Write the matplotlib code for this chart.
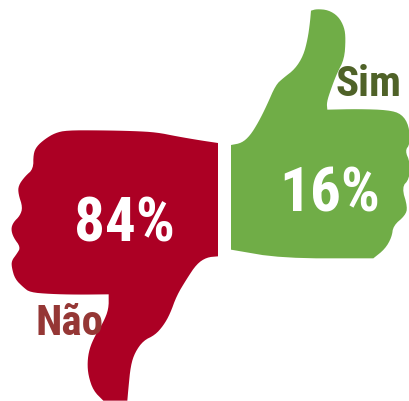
import matplotlib
matplotlib.use("Agg")
import matplotlib.pyplot as plt
from matplotlib.patches import Polygon

categories = ["Não", "Sim"]
values = [84, 16]
hand_colors = ["#AC0024", "#70AD47"]
name_colors = ["#953735", "#4F6228"]

# hand outlines, in 3x zoom crop coordinates
# (a point listed three times stays a sharp corner)
down_zoom = [(654,72),(654,72),(654,72),(600,64),(530,52),(470,40),(400,36),(300,34),(200,34),(165,42),(135,60),(110,82),(100,105),(100,150),(75,172),(55,200),(55,225),(68,265),(60,290),(40,310),(33,330),(40,355),(62,385),(50,405),(35,425),(35,445),(45,480),(70,505),(90,520),(150,525),(230,527),(326,526),(326,526),(326,526),(326,570),(310,610),(285,650),(268,690),(262,730),(265,770),(280,815),(310,845),(310,845),(310,845),(382,845),(382,845),(382,845),(385,810),(392,740),(405,700),(430,665),(465,648),(490,620),(510,585),(530,530),(560,480),(590,435),(620,415),(654,412),(654,412),(654,412)]
up_zoom = [(18,752),(18,752),(18,752),(18,438),(18,438),(18,438),(50,432),(75,410),(100,370),(125,320),(152,258),(175,237),(210,210),(235,170),(248,120),(255,70),(258,35),(258,35),(275,30),(310,33),(340,52),(358,85),(362,120),(358,180),(335,225),(318,270),(305,310),(307,332),(307,332),(307,332),(400,330),(490,333),(530,345),(552,380),(555,435),(540,455),(555,490),(553,540),(530,565),(548,625),(540,650),(505,680),(500,715),(480,750),(445,778),(445,778),(170,778),(18,752),(18,752),(18,752)]


def smooth(points, passes=2):
    """Corner-cutting so the traced outline reads as a curve."""
    for _ in range(passes):
        out = [points[0]]
        for (x0, y0), (x1, y1) in zip(points, points[1:]):
            out.append((0.75 * x0 + 0.25 * x1, 0.75 * y0 + 0.25 * y1))
            out.append((0.25 * x0 + 0.75 * x1, 0.25 * y0 + 0.75 * y1))
        out.append(points[-1])
        points = out
    return points


hand_down = [(x / 3, y / 3 + 120) for x, y in smooth(down_zoom)]
hand_up = [(x / 3 + 225, y / 3) for x, y in smooth(up_zoom)]

font = ["Roboto Condensed", "Open Sans Condensed", "Liberation Sans"]

fig = plt.figure(figsize=(4.10, 4.02), dpi=100)
ax = fig.add_axes([0, 0, 1, 1])
ax.set_xlim(0, 410)
ax.set_ylim(402, 0)
ax.axis("off")

for outline, color in zip([hand_down, hand_up], hand_colors):
    ax.add_patch(Polygon(outline, closed=True, facecolor=color, edgecolor="none"))

value_pos = [(124, 242), (330, 212)]
name_pos = [(70, 335), (369, 96)]
for v, vp, n, np_, c in zip(values, value_pos, categories, name_pos, name_colors):
    ax.text(*vp, f"{v}%", color="white", fontsize=44, fontweight="bold", family=font,
            ha="center", va="baseline")
    ax.text(*np_, n, color=c, fontsize=31, fontweight="bold", family=font,
            ha="center", va="baseline")

fig.savefig("out.png", dpi=100)
